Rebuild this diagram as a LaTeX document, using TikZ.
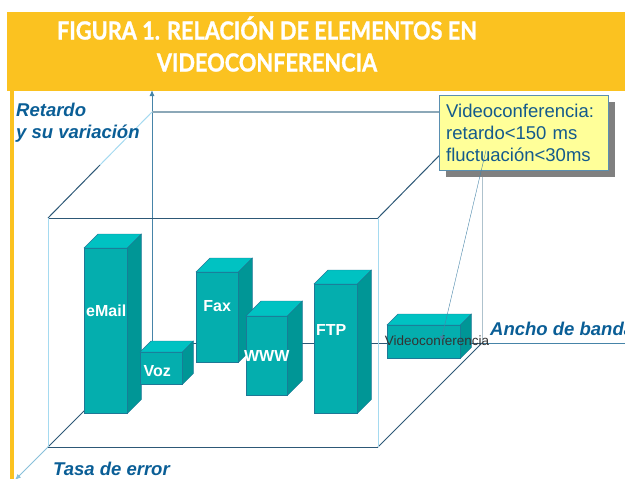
\documentclass[tikz,border=0pt]{standalone}
\usepackage{fontspec}
\setmainfont{Liberation Sans}
\newfontfamily\titlefont[FakeStretch=0.87, FakeBold=1.2]{Lato}
\usetikzlibrary{arrows.meta,calc,shadows}

\definecolor{banner}{RGB}{251,194,32}
\definecolor{labelblue}{RGB}{10,94,150}
\definecolor{edgedark}{RGB}{45,88,118}
\definecolor{edgemid}{RGB}{70,132,168}
\definecolor{edgelight}{RGB}{165,218,240}
\definecolor{edgegray}{RGB}{140,168,184}
\definecolor{barfront}{RGB}{4,174,174}
\definecolor{bartop}{RGB}{0,194,194}
\definecolor{barside}{RGB}{0,150,150}
\definecolor{barline}{RGB}{30,120,150}
\definecolor{notefill}{RGB}{255,255,153}
\definecolor{noteline}{RGB}{90,143,176}
\definecolor{notetext}{RGB}{20,90,140}

% top and side faces of a column: node name, depth
\newcommand{\barfaces}[2]{%
  \draw[topface] (#1.north west) -- ++(#2,-#2) -- ([shift={(#2,-#2)}]#1.north east) -- (#1.north east) -- cycle;
  \draw[sideface] (#1.north east) -- ++(#2,-#2) -- ([shift={(#2,-#2)}]#1.south east) -- (#1.south east) -- cycle;
}

\begin{document}
\begin{tikzpicture}[
    x=1pt, y=-1pt,
    edge/.style={line width=1pt},
    axis/.style={line width=1pt, -{Latex[length=6pt,width=5pt]}},
    axislabel/.style={font=\fontsize{18.5}{22}\selectfont\bfseries\itshape, text=labelblue,
        inner sep=0pt, align=left},
    bar/.style={draw=barline, fill=barfront, anchor=north west, inner sep=0pt},
    barlabel/.style={font=\fontsize{16}{19}\selectfont\bfseries, text=white, inner sep=0pt},
    topface/.style={draw=barline, fill=bartop},
    sideface/.style={draw=barline, fill=barside},
    note/.style={draw=noteline, fill=notefill, anchor=north west, align=left, text width=155pt,
        minimum height=75pt, inner sep=7pt, font=\fontsize{18.5}{22}\selectfont, text=notetext,
        drop shadow={shadow xshift=7pt, shadow yshift=-7pt, fill=gray, opacity=1}},
    pointer/.style={-{Latex[length=5pt,width=4pt]}, edgemid}
]
\useasboundingbox (0,0) rectangle (625,479);

% title band
\fill[banner] (7,12) rectangle (625,91);
\fill[banner] (10,91) rectangle (14,479);
\node[font=\titlefont\bfseries\fontsize{25}{32}\selectfont, text=white, align=center] (title)
    at (267,44) {FIGURA 1. RELACIÓN DE ELEMENTOS EN\\VIDEOCONFERENCIA};

% cube corners
\coordinate (btl) at (152,112);
\coordinate (btr) at (482,112);
\coordinate (bbl) at (152,343);
\coordinate (bbr) at (482,343);
\coordinate (ftl) at (48,218);
\coordinate (ftr) at (378,218);
\coordinate (fbl) at (48,447);
\coordinate (fbr) at (378,447);
\coordinate (uptip) at (152,90);
\coordinate (righttip) at (630,343);
\coordinate (depthtip) at (15,480);

% axes
\draw[axis, edgemid] (bbl) -- (uptip);
\draw[edge, edgedark] (bbl) -- (bbr);
\draw[edge, edgemid] (bbr) -- (righttip);
\draw[edge, edgedark] (bbl) -- (fbl);
\draw[axis, edgelight!70!edgemid] (fbl) -- (depthtip);

% box edges
\draw[line width=2pt, edgegray] (btl) -- (btr);
\draw[edge, edgegray!70] (btr) -- (bbr);
\draw[edge, edgedark] (ftl) -- ($(ftl)!0.5!(btl)$);
\draw[edge, edgelight] ($(ftl)!0.5!(btl)$) -- (btl);
\draw[edge, edgedark] (ftr) -- (btr);
\draw[edge, edgedark] (fbr) -- (bbr);
\draw[edge, edgedark] (ftl) -- (ftr);
\draw[edge, edgelight] (ftl) -- (fbl);
\draw[edge, edgelight] (ftr) -- (fbr);
\draw[edge, edgedark] (fbl) -- (fbr);

% columns
\node[bar, minimum width=43pt, minimum height=165pt] (email) at (84,248) {};
\barfaces{email}{14}
\node[barlabel] (emailtxt) at ([shift={(0.5,-19.5)}]email.center) {eMail};

\node[bar, minimum width=42pt, minimum height=32pt] (voz) at (140,352) {};
\barfaces{voz}{11}
\node[barlabel] (voztxt) at ([shift={(-4,3)}]voz.center) {Voz};

\node[bar, minimum width=42pt, minimum height=90pt] (fax) at (196,272) {};
\barfaces{fax}{14}
\node[barlabel] (faxtxt) at ([shift={(0,-11)}]fax.center) {Fax};

\node[bar, minimum width=41pt, minimum height=79pt] (www) at (246,316) {};
\barfaces{www}{15}
\node[barlabel] (wwwtxt) at (www.center) {WWW};

\node[bar, minimum width=43pt, minimum height=129pt] (ftp) at (314,284) {};
\barfaces{ftp}{14}
\node[barlabel] (ftptxt) at ([shift={(-4.5,-18.5)}]ftp.center) {FTP};

\node[bar, minimum width=73pt, minimum height=33pt] (video) at (387,325) {};
\barfaces{video}{11}
\node[font=\fontsize{13.5}{16}\selectfont, text=black!80, inner sep=0pt] (videotxt)
    at (437,341) {Videoconferencia};

% axis names
\node[axislabel, anchor=north west] (retardo) at (16,103) {Retardo\\y su variación};
\node[axislabel, anchor=base west] (ancho) at (490,335) {Ancho de banda};
\node[axislabel, anchor=base west] (tasa) at (53,475) {Tasa de error};

% callout
\node[note] (callout) at (439,95) {Videoconferencia:\\retardo<150 ms\\fluctuación<30ms};
\draw[pointer] ($(callout.south west)+(47,-20)$) -- ([xshift=4pt]videotxt.center);

\end{tikzpicture}
\end{document}
